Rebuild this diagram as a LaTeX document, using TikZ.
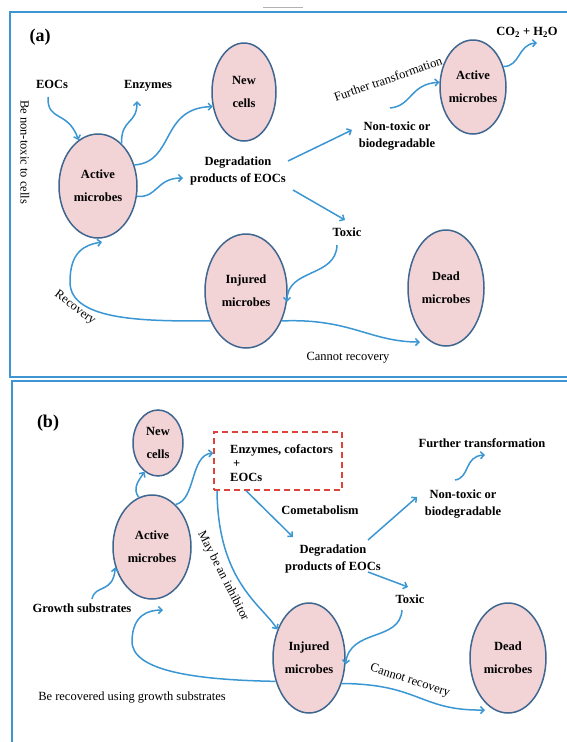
\documentclass[tikz,border=0pt]{standalone}
\usepackage{fontspec}
\setmainfont{Liberation Serif}
\usetikzlibrary{shapes.geometric,arrows.meta}
\definecolor{arrblue}{HTML}{3B97D3}
\definecolor{frameblue}{HTML}{3D95D2}
\definecolor{cellborder}{HTML}{3F6690}
\definecolor{cellfill}{HTML}{F2D3D6}
\definecolor{dashred}{HTML}{E0433A}
\begin{document}
\begin{tikzpicture}[x=1pt,y=-1pt,
  cell/.style={ellipse,draw=cellborder,fill=cellfill,line width=1.5pt,inner sep=-8pt,align=center,
    font=\fontsize{12.5}{23}\selectfont\bfseries},
  lbl/.style={align=center,inner sep=0pt,font=\fontsize{12.5}{16.5}\selectfont\bfseries},
  rlbl/.style={inner sep=0pt,font=\fontsize{12.5}{15}\selectfont},
  ttl/.style={inner sep=0pt,font=\fontsize{18}{20}\selectfont\bfseries},
  arr/.style={draw=arrblue,line width=1.5pt,-{Straight Barb[length=3.5pt,width=7pt]}},
  panelframe/.style={draw=frameblue,line width=2pt}]
\useasboundingbox (0,0) rectangle (567,742);
\fill[white] (0,0) rectangle (567,742);
% frames
\draw[panelframe] (10,12) rectangle (620,377);
\draw[panelframe] (12,381) rectangle (620,800);
\draw[gray!60,line width=0.8pt] (263,7) -- (303,7);

% ---------------- panel (a)
\node[ttl] (ta) at (40,37) {(a)};
\node[lbl] (eocsA) at (52,84) {EOCs};
\node[lbl] (enzA) at (148,86) {Enzymes};
\node[rlbl,rotate=-90] (bentA) at (25,152) {Be non-toxic to cells};
\node[cell,minimum width=78pt,minimum height=104pt] (actA) at (98,186) {Active\\microbes};
\node[cell,minimum width=64pt,minimum height=98pt] (newA) at (244,92) {New\\cells};
\node[lbl] (degA) at (238,171) {Degradation\\products of EOCs};
\node[lbl] (ntA) at (397,136) {Non-toxic or\\biodegradable};
\node[lbl] (toxA) at (347,232) {Toxic};
\node[cell,minimum width=66pt,minimum height=94pt] (act2A) at (473,87) {Active\\microbes};
\node[lbl] (co2A) at (527,32) {CO\textsubscript{2} + H\textsubscript{2}O};
\node[rlbl,rotate=19] (ftA) at (388,79) {Further transformation};
\node[cell,minimum width=82pt,minimum height=114pt] (injA) at (246,291) {Injured\\microbes};
\node[cell,minimum width=76pt,minimum height=116pt] (deadA) at (446,288) {Dead\\microbes};
\node[rlbl] (crA) at (348,358) {Cannot recovery};
\node[rlbl,rotate=-37] (recA) at (75,308) {Recovery};

\coordinate (eocsOut) at (48,97);
\coordinate (enzIn) at (137,101);
\coordinate (degAin) at (183,178);
\coordinate (degAout1) at (288,161);
\coordinate (ntAin) at (352,130);
\coordinate (degAout2) at (293,190);
\coordinate (toxAin) at (345,220);
\coordinate (ntAout) at (390,108);
\coordinate (co2In) at (537,43);
\coordinate (toxAout) at (337,245);
\coordinate (deadAin) at (420,342);
\coordinate (recAin) at (102,242);

\draw[arr] (eocsOut) .. controls (47,122) and (68,110) .. (actA.113);
\draw[arr] (actA.61) .. controls (121,118) and (137,125) .. (enzIn);
\draw[arr] (actA.30) .. controls (175,162) and (160,108) .. (newA.205);
\draw[arr] (actA.-15) .. controls (158,198) and (156,178) .. (degAin);
\draw[arr] (degAout1) -- (ntAin);
\draw[arr] (degAout2) -- (toxAin);
\draw[arr] (ntAout) .. controls (412,106) and (410,84) .. (act2A.172);
\draw[arr] (act2A.34) .. controls (520,67) and (518,44) .. (co2In);
\draw[arr] (toxAout) .. controls (336,278) and (287,268) .. (injA.-15);
\draw[arr] (injA.-40) .. controls (350,318) and (370,342) .. (deadAin);
\draw[arr] (injA.220) .. controls (150,321) and (70,322) .. (70,282)
  .. controls (70,252) and (84,245) .. (recAin);

% ---------------- panel (b)
\node[ttl] (tb) at (48,423) {(b)};
\node[cell,minimum width=50pt,minimum height=66pt] (newB) at (158,443) {New\\cells};
\node[draw=dashred,dashed,dash pattern=on 6pt off 4pt,line width=1.5pt,minimum width=128pt,minimum height=58pt,inner sep=0pt] (box) at (278,461) {};
\node[anchor=west,align=left,inner sep=0pt,font=\fontsize{12.5}{14}\selectfont\bfseries] (boxtxt) at (230,463) {Enzymes, cofactors\\\hspace*{3pt}+\\EOCs};
\node[cell,minimum width=78pt,minimum height=104pt] (actB) at (152,547) {Active\\microbes};
\node[lbl] (growB) at (82,608) {Growth substrates};
\node[rlbl,rotate=-63] (inhB) at (223,576) {May be an inhibitor};
\node[rlbl] (recB) at (132,698) {Be recovered using growth substrates};
\node[lbl] (cometB) at (320,510) {Cometabolism};
\node[lbl] (degB) at (333,559) {Degradation\\products of EOCs};
\node[lbl] (ftB) at (482,443) {Further transformation};
\node[lbl] (ntB) at (463,504) {Non-toxic or\\biodegradable};
\node[lbl] (toxB) at (410,599) {Toxic};
\node[cell,minimum width=72pt,minimum height=110pt] (injB) at (309,658) {Injured\\microbes};
\node[cell,minimum width=76pt,minimum height=110pt] (deadB) at (508,658) {Dead\\microbes};
\node[rlbl,rotate=-18] (crB) at (410,681) {Cannot recovery};

\coordinate (growOut) at (92,599);
\coordinate (degBin) at (293,537);
\coordinate (degBout1) at (368,540);
\coordinate (ntBin) at (417,497);
\coordinate (ntBout) at (455,480);
\coordinate (ftBin) at (485,455);
\coordinate (degBout2) at (368,572);
\coordinate (toxBin) at (408,587);
\coordinate (toxBout) at (402,610);
\coordinate (deadBin) at (485,710);
\coordinate (actBin) at (163,610);

\draw[arr] (growOut) .. controls (95,584) and (113,594) .. (actB.209);
\draw[arr] (actB.105) .. controls (132,488) and (139,480) .. (newB.245);
\draw[arr] (actB.61) .. controls (196,500) and (190,455) .. (box.173);
\draw[arr] (box.206) .. controls (218,582) and (262,605) .. (injB.138);
\draw[arr] (box.223) -- (degBin);
\draw[arr] (degBout1) -- (ntBin);
\draw[arr] (ntBout) .. controls (470,478) and (464,456) .. (ftBin);
\draw[arr] (degBout2) -- (toxBin);
\draw[arr] (toxBout) .. controls (400,642) and (350,628) .. (injB.-10);
\draw[arr] (injB.-38) .. controls (420,684) and (420,711) .. (deadBin);
\draw[arr] (injB.215) .. controls (200,680) and (130,672) .. (132,640)
  .. controls (133,615) and (148,610) .. (actBin);
\end{tikzpicture}
\end{document}
